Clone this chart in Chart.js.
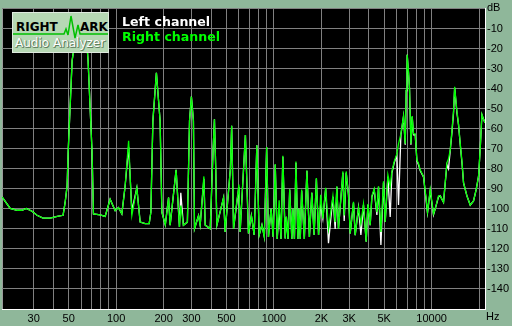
<!DOCTYPE html>
<html>
<head>
<meta charset="utf-8">
<script src="https://cdn.jsdelivr.net/npm/chart.js@4.4.0/dist/chart.umd.min.js"></script>
<style>
  html, body { margin: 0; padding: 0; background: #8fb79a; }
  #wrap { position: relative; width: 512px; height: 326px; overflow: hidden; }
  #spectrum { position: absolute; left: 0; top: 0; z-index: 0; }
  #logo {
    position: absolute; left: 12px; top: 12px; width: 95px; height: 39px; z-index: 2;
    background: #b6d8b4; border: 1px solid #dfeadf;
  }
  #logo svg { position: absolute; left: 0; top: 0; }
  .logoTxt { position: absolute; font: bold 12px/12px "DejaVu Sans", sans-serif; color: #000; }
  #logoSub {
    position: absolute; left: 2px; top: 24px; font: 12px/12px "DejaVu Sans", sans-serif;
    color: #fff; text-shadow: 1px 1px 0 #5f7f5f, 1px 0 0 #7f9f7f, 0 1px 0 #7f9f7f;
  }
  .legend { position: absolute; left: 122px; z-index: 2; font: bold 12.6px/13px "DejaVu Sans", sans-serif; }
  .unit { position: absolute; z-index: 2; font: 11px/11px "Liberation Sans", Arial, sans-serif; color: #000; }
</style>
</head>
<body>
<div id="wrap">
  <canvas id="spectrum" width="512" height="326"></canvas>
  <div id="logo">
    <svg width="95" height="39">
      <polyline points="0,21 51,21 53,16 55,22 58,3 62,25 65,12 67,21 95,21" fill="none" stroke="#00c000" stroke-width="1.5"/>
    </svg>
    <span class="logoTxt" style="left:3px;top:8px">RIGHT</span>
    <span class="logoTxt" style="left:67px;top:8px">ARK</span>
    <span id="logoSub">Audio Analyzer</span>
  </div>
  <div class="legend" style="top:15px;color:#ffffff">Left channel</div>
  <div class="legend" style="top:30px;color:#00ff00">Right channel</div>
  <div class="unit" style="left:487px;top:2px">dB</div>
  <div class="unit" style="left:486px;top:311px">Hz</div>
</div>
<script>
//frequency bins (Hz) shared by both channels
const freqs = [
  18.9, 21.3, 23.6, 25.3, 26.9, 29.3, 31.5, 34.4, 38.2, 42.3,
  46.1, 47.5, 48.9, 49.6, 52.6, 55.8, 60, 64.5, 66.4, 70.4,
  71.8, 79.2, 85.2, 91.6, 98.6, 103.4, 108.7, 114, 120, 125.8,
  135.3, 142, 152.7, 162, 166, 171, 180, 190, 195, 205,
  215, 220, 240, 252, 257, 267, 283, 292, 300, 309,
  314, 333, 341, 360, 367, 395, 412, 420, 428, 435,
  480, 491, 530, 540, 548, 555, 600, 611, 660, 690,
  720, 750, 780, 807, 840, 870, 900, 924, 960, 990,
  1020, 1050, 1080, 1110, 1140, 1180, 1200, 1230, 1260, 1300,
  1320, 1350, 1380, 1420, 1440, 1470, 1500, 1560, 1620, 1680,
  1740, 1800, 1860, 1920, 1980, 2045, 2130, 2219, 2367, 2447,
  2509, 2568, 2739, 2791, 2874, 2972, 3047, 3197, 3278, 3439,
  3562, 3699, 3848, 3945, 4079, 4182, 4325, 4500, 4606, 4770,
  4955, 5079, 5282, 5463, 5601, 5792, 6026, 6168, 6388, 6636,
  6802, 6903, 6973, 7000, 7138, 7243, 7393, 7533, 7678, 7870,
  8067, 8258, 8466, 8884, 9241, 9419, 9797, 10280, 10540, 11060,
  11340, 11620, 11900, 12200, 12500, 12800, 13120, 13450, 13770, 14000,
  14470, 14810, 15190, 15570, 15940, 16740, 17570, 18440, 19180, 19840,
  20330, 20840, 21340, 21800
];
//right channel level (dB)
const rightDb = [
  -94, -99.8, -100.7, -100.7, -99.8, -101.2, -103.2, -104.6, -104.6, -103.7,
  -103.2, -96.8, -88.5, -72.4, -26, -12, -6, -12, -26, -72,
  -102.5, -103, -103.8, -95.2, -100.9, -99.3, -102.5, -88.7, -66, -103.3,
  -89.5, -106.6, -107.4, -107.4, -101.7, -56, -32, -56, -101.7, -108,
  -94.4, -108.1, -80.5, -109, -98.4, -108.2, -106.6, -56, -43.9, -56,
  -109.9, -103.3, -108.1, -83.8, -108.1, -109.9, -70, -55.3, -80, -108.2,
  -94.4, -111.5, -80, -58.5, -85, -109.9, -87.9, -111.5, -63.1, -112.3,
  -103.3, -113, -68.3, -113.1, -108, -114, -69.1, -114, -100, -114,
  -77.6, -115, -95.7, -115, -73.5, -114.8, -104, -115, -90.3, -115,
  -100, -115, -76.4, -115, -100, -115, -90.3, -115, -80.8, -114,
  -91.9, -113, -84.6, -113, -93, -104.9, -89.5, -109.9, -93.5, -106.6,
  -88.7, -109.9, -81.3, -103.3, -81.3, -92.8, -112.3, -96.5, -113.1, -99.3,
  -107.4, -97.6, -116.4, -97.6, -108.2, -93.5, -90, -101.7, -88.7, -111.5,
  -86.2, -106.6, -83, -88.7, -81.3, -76.4, -72.4, -67.5, -62.6, -53.6,
  -67.5, -40.6, -31.6, -23, -31.6, -39.8, -67.5, -53.6, -62.6, -62.6,
  -75.6, -77.3, -80.5, -83.8, -95.2, -101.7, -90.3, -102.5, -100, -93.5,
  -93.4, -95.2, -96.7, -87, -77, -75, -70.7, -61, -51.2, -39,
  -51.2, -57.7, -67.5, -76.1, -87, -93.5, -98.1, -96, -90.3, -83.8,
  -70, -52.8, -55.3, -57
];
//left channel level (dB)
const leftDb = [
  -94, -99.8, -100.7, -100.7, -99.8, -101.2, -103.2, -104.6, -104.6, -103.7,
  -103.2, -96.8, -88.5, -72.4, -26, -12, -6, -12, -26, -72,
  -102.5, -103, -103.8, -95.2, -100.9, -99.3, -102.5, -88.7, -69, -101,
  -89.5, -106.6, -107.4, -107.4, -101.7, -56, -32, -56, -101.7, -108,
  -94.4, -108.1, -80.5, -109, -92, -108.2, -106.6, -56, -43.9, -56,
  -109.9, -103.3, -108.1, -85, -108.1, -109.9, -70, -55.3, -80, -108.2,
  -94.4, -111.5, -80, -58.5, -85, -109.9, -89, -111.5, -63.1, -112.3,
  -103.3, -113, -68.3, -113.1, -108, -114, -69.1, -114, -100, -114,
  -78, -115, -100, -115, -74, -114.8, -104, -115, -90.3, -115,
  -100, -115, -77, -115, -100, -115, -91, -115, -81, -114,
  -92, -113, -85, -113, -98, -104.9, -90, -117.2, -94, -110,
  -89, -109.9, -82, -106, -82, -93, -112.3, -97, -113.1, -99.3,
  -113, -98, -116.4, -98, -108.2, -94, -90.5, -103, -89, -118,
  -87, -106.6, -84, -104, -82, -77, -73, -98, -63, -54,
  -68, -41, -32, -23, -32, -40, -68, -54, -63, -63,
  -76, -78, -81, -84, -96, -102, -91, -103, -100, -94,
  -93.4, -95.2, -96.7, -87, -78, -80, -71, -62, -52, -39.5,
  -52, -58, -68, -77, -87, -93.5, -98.1, -96, -90.3, -83.8,
  -70, -53, -55.3, -57
];
//vertical grid lines and the ones that get a label
const gridFreqs = [30, 40, 50, 60, 70, 80, 90, 100, 200, 300, 400, 500, 600, 700, 800, 900,
  1000, 2000, 3000, 4000, 5000, 6000, 7000, 8000, 9000, 10000, 20000];
const labelFreqs = [30, 50, 100, 200, 300, 500, 1000, 2000, 3000, 5000, 10000];
const labelTexts = ["30", "50", "100", "200", "300", "500", "1000", "2K", "3K", "5K", "10000"];

const toPoints = (db) => freqs.map((f, i) => ({ x: f, y: db[i] }));

//black plot area behind the grid
const plotBackground = {
  id: "plotBackground",
  beforeDraw(chart) {
    const { ctx, chartArea: a } = chart;
    ctx.save();
    ctx.fillStyle = "#000000";
    ctx.fillRect(a.left, a.top, a.right - a.left, a.bottom - a.top);
    ctx.strokeStyle = "#9a9a9a";
    ctx.lineWidth = 1;
    ctx.beginPath();
    ctx.moveTo(a.left + 0.5, a.top);
    ctx.lineTo(a.left + 0.5, a.bottom);
    ctx.stroke();
    ctx.restore();
  },
};

const tickFont = { family: "'Liberation Sans', Arial, sans-serif", size: 11 };

new Chart(document.getElementById("spectrum"), {
  type: "line",
  plugins: [plotBackground],
  data: {
    datasets: [
      {
        label: "Right channel",
        data: toPoints(rightDb),
        borderColor: "#00ff00",
        borderWidth: 1.3,
        pointRadius: 0,
        tension: 0,
        order: 1,
      },
      {
        label: "Left channel",
        data: toPoints(leftDb),
        borderColor: "#ffffff",
        borderWidth: 1.3,
        pointRadius: 0,
        tension: 0,
        order: 2,
      },
    ],
  },
  options: {
    responsive: false,
    animation: false,
    devicePixelRatio: 1,
    layout: { padding: { left: 2, top: 2, right: 0, bottom: 0 } },
    plugins: { legend: { display: false }, tooltip: { enabled: false } },
    scales: {
      x: {
        type: "logarithmic",
        min: 18.9,
        max: 21800,
        afterBuildTicks: (scale) => {
          scale.ticks = gridFreqs.map((v) => ({ value: v }));
        },
        afterFit: (scale) => {
          scale.height = 17;
        },
        grid: { color: "#808080", lineWidth: 1, drawTicks: false },
        border: { color: "#ffffff", width: 1 },
        ticks: {
          autoSkip: false,
          maxRotation: 0,
          padding: 3,
          color: "#000000",
          font: tickFont,
          callback: (v) => {
            const i = labelFreqs.indexOf(v);
            return i >= 0 ? labelTexts[i] : "";
          },
        },
      },
      y: {
        position: "right",
        min: -150,
        max: 0,
        afterFit: (scale) => {
          scale.width = 27;
        },
        grid: { color: "#808080", lineWidth: 1, drawTicks: false },
        border: { color: "#ffffff", width: 1 },
        ticks: {
          stepSize: 10,
          padding: 2,
          color: "#000000",
          font: tickFont,
          callback: (v) => (v === 0 || v === -150 ? "" : String(v)),
        },
      },
    },
  },
});
</script>
</body>
</html>
